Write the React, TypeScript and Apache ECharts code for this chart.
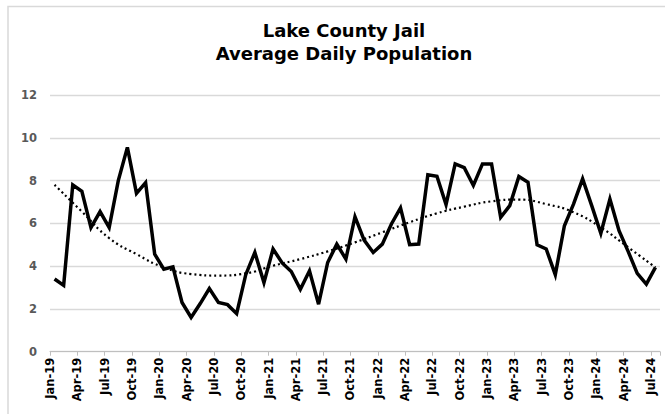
import React, { useEffect, useRef } from "react";
import * as echarts from "echarts";

const months: string[] = [
  "Jan-19","Feb-19","Mar-19","Apr-19","May-19","Jun-19","Jul-19","Aug-19","Sep-19","Oct-19","Nov-19","Dec-19",
  "Jan-20","Feb-20","Mar-20","Apr-20","May-20","Jun-20","Jul-20","Aug-20","Sep-20","Oct-20","Nov-20","Dec-20",
  "Jan-21","Feb-21","Mar-21","Apr-21","May-21","Jun-21","Jul-21","Aug-21","Sep-21","Oct-21","Nov-21","Dec-21",
  "Jan-22","Feb-22","Mar-22","Apr-22","May-22","Jun-22","Jul-22","Aug-22","Sep-22","Oct-22","Nov-22","Dec-22",
  "Jan-23","Feb-23","Mar-23","Apr-23","May-23","Jun-23","Jul-23","Aug-23","Sep-23","Oct-23","Nov-23","Dec-23",
  "Jan-24","Feb-24","Mar-24","Apr-24","May-24","Jun-24","Jul-24",
];

const population: number[] = [
  3.4, 3.1, 7.8, 7.5, 5.8, 6.55, 5.8, 8.0, 9.55, 7.4, 7.9, 4.56,
  3.86, 3.97, 2.3, 1.6, 2.25, 2.95, 2.3, 2.2, 1.78, 3.6, 4.64, 3.23,
  4.8, 4.15, 3.75, 2.92, 3.78, 2.22, 4.17, 5.03, 4.33, 6.31, 5.22, 4.64,
  5.03, 5.97, 6.72, 5.0, 5.03, 8.27, 8.2, 6.88, 8.78, 8.6, 7.77, 8.78,
  8.78, 6.28, 6.83, 8.19, 7.92, 5.0, 4.8, 3.6, 5.89, 6.9, 8.08, 6.83,
  5.53, 7.14, 5.66, 4.69, 3.66, 3.16, 3.94,
];

// trendline values, every third month
const trendIndex: number[] = [0, 3, 6, 9, 12, 15, 18, 21, 24, 27, 30, 33, 36, 39, 42, 45, 48, 51, 54, 57, 60, 63, 66];
const trendValue: number[] = [7.8, 6.55, 5.31, 4.56, 3.94, 3.63, 3.56, 3.66, 4.02, 4.33, 4.69, 5.11, 5.58, 6.05, 6.47, 6.78, 7.03, 7.11, 6.9, 6.52, 5.81, 4.88, 3.94];

const yTicks = { min: 0, max: 12, interval: 2 };
const titleText = "Lake County Jail\nAverage Daily Population";
const FONT = "DejaVu Sans";

export default function App() {
  const ref = useRef<HTMLDivElement>(null);
  useEffect(() => {
    if (!ref.current) return;
    const chart = echarts.init(ref.current, undefined, { renderer: "svg" });
    const labelCats = [...months, ""];
    chart.setOption({
      animation: false,
      backgroundColor: "#ffffff",
      title: {
        text: titleText,
        left: 344,
        top: 19,
        padding: 0,
        textAlign: "center",
        textStyle: {
          fontFamily: FONT,
          fontWeight: "bold",
          fontSize: 18,
          lineHeight: 23,
          color: "#000000",
        },
      },
      graphic: [
        {
          type: "rect",
          shape: { x: 8, y: 6.5, width: 700, height: 500 },
          style: { fill: "none", stroke: "#d9d9d9", lineWidth: 1.5 },
          silent: true,
        },
      ],
      grid: { left: 50, right: 5, top: 95, bottom: 62.3 },
      xAxis: [
        {
          type: "category",
          data: months,
          boundaryGap: true,
          axisLine: { show: true, lineStyle: { color: "#bfbfbf", width: 1 } },
          axisTick: {
            show: true,
            interval: (i: number) => i % 3 === 0,
            length: 4,
            lineStyle: { color: "#bfbfbf" },
          },
          axisLabel: { show: false },
          splitLine: { show: false },
        },
        {
          type: "category",
          data: labelCats,
          boundaryGap: false,
          position: "bottom",
          axisLine: { show: false },
          axisTick: { show: false },
          axisLabel: {
            interval: 2,
            rotate: 90,
            margin: 6,
            fontFamily: FONT,
            fontWeight: "bold",
            fontSize: 11.5,
            color: "#000000",
          },
          splitLine: { show: false },
        },
      ],
      yAxis: {
        type: "value",
        min: yTicks.min,
        max: yTicks.max,
        interval: yTicks.interval,
        axisLine: { show: false },
        axisTick: { show: false },
        axisLabel: {
          margin: 13,
          fontFamily: FONT,
          fontWeight: "bold",
          fontSize: 11.5,
          color: "#595959",
        },
        splitLine: { lineStyle: { color: "#d9d9d9", width: 1.3 } },
      },
      series: [
        {
          type: "line",
          xAxisIndex: 0,
          data: trendIndex.map((x, k) => [x, trendValue[k]]),
          smooth: true,
          symbol: "none",
          lineStyle: { color: "#000000", width: 2.2, type: [2, 3] },
          z: 3,
        },
        {
          type: "line",
          xAxisIndex: 0,
          data: population,
          symbol: "none",
          lineStyle: { color: "#000000", width: 3.5, join: "miter" },
          z: 4,
        },
      ],
    });
    return () => chart.dispose();
  }, []);
  return (
    <div
      ref={ref}
      style={{ position: "absolute", left: 0, top: 0, width: 665, height: 414 }}
    />
  );
}
